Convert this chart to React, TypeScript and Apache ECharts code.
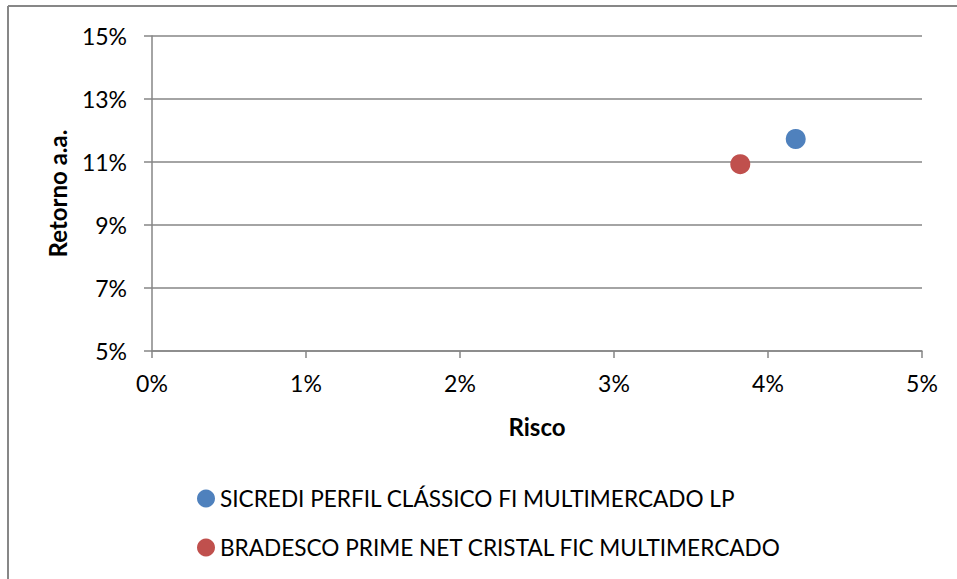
import React, { useEffect, useRef } from "react";
import * as echarts from "echarts";

const seriesNames = [
  "SICREDI PERFIL CLÁSSICO FI MULTIMERCADO LP",
  "BRADESCO PRIME NET CRISTAL FIC MULTIMERCADO",
];
const riskValues = [4.18, 3.82];
const returnValues = [11.73, 10.93];
const seriesColors = ["#4F81BD", "#C0504D"];

const FONT = "Lato";

export default function App() {
  const ref = useRef<HTMLDivElement>(null);
  useEffect(() => {
    if (!ref.current) return;
    const chart = echarts.init(ref.current, undefined, { renderer: "svg" });
    const axisGray = "#868686";
    chart.setOption({
      animation: false,
      backgroundColor: "#ffffff",
      textStyle: { fontFamily: FONT },
      grid: { left: 152, top: 36, width: 770, height: 315, containLabel: false },
      xAxis: {
        type: "value",
        min: 0,
        max: 5,
        interval: 1,
        name: "Risco",
        nameLocation: "middle",
        nameGap: 63,
        nameTextStyle: { fontFamily: FONT, fontSize: 24, fontWeight: "bold", color: "#000" },
        axisLine: { show: true, lineStyle: { color: axisGray, width: 1.5 } },
        axisTick: { show: true, inside: false, length: 7, lineStyle: { color: axisGray, width: 1.5 } },
        axisLabel: { formatter: "{value}%", fontFamily: FONT, fontSize: 23, color: "#000", margin: 20 },
        splitLine: { show: false },
      },
      yAxis: {
        type: "value",
        min: 5,
        max: 15,
        interval: 2,
        name: "Retorno a.a.",
        nameLocation: "middle",
        nameRotate: 90,
        nameGap: 83,
        nameTextStyle: { fontFamily: FONT, fontSize: 24, fontWeight: "bold", color: "#000" },
        axisLine: { show: true, lineStyle: { color: axisGray, width: 1.5 } },
        axisTick: { show: true, inside: false, length: 8, lineStyle: { color: axisGray, width: 1.5 } },
        axisLabel: { formatter: "{value}%", fontFamily: FONT, fontSize: 23, color: "#000", margin: 25 },
        splitLine: { show: true, lineStyle: { color: axisGray, width: 1.5 } },
      },
      legend: {
        orient: "vertical",
        left: 192,
        top: 482,
        itemWidth: 18,
        itemHeight: 18,
        itemGap: 26,
        icon: "circle",
        textStyle: { fontFamily: FONT, fontSize: 22.6, color: "#000", lineHeight: 22 },
        data: seriesNames,
      },
      graphic: [
        { type: "line", shape: { x1: 8, y1: 6, x2: 957, y2: 6 }, style: { stroke: "#878787", lineWidth: 2 } },
        { type: "line", shape: { x1: 8, y1: 6, x2: 8, y2: 579 }, style: { stroke: "#878787", lineWidth: 2 } },
      ],
      series: seriesNames.map((name, i) => ({
        name,
        type: "scatter",
        symbol: "circle",
        symbolSize: 20,
        itemStyle: { color: seriesColors[i], opacity: 1 },
        data: [[riskValues[i], returnValues[i]]],
      })),
    });
    return () => chart.dispose();
  }, []);
  return <div ref={ref} style={{ position: "fixed", left: 0, top: 0, width: 957, height: 579 }} />;
}
